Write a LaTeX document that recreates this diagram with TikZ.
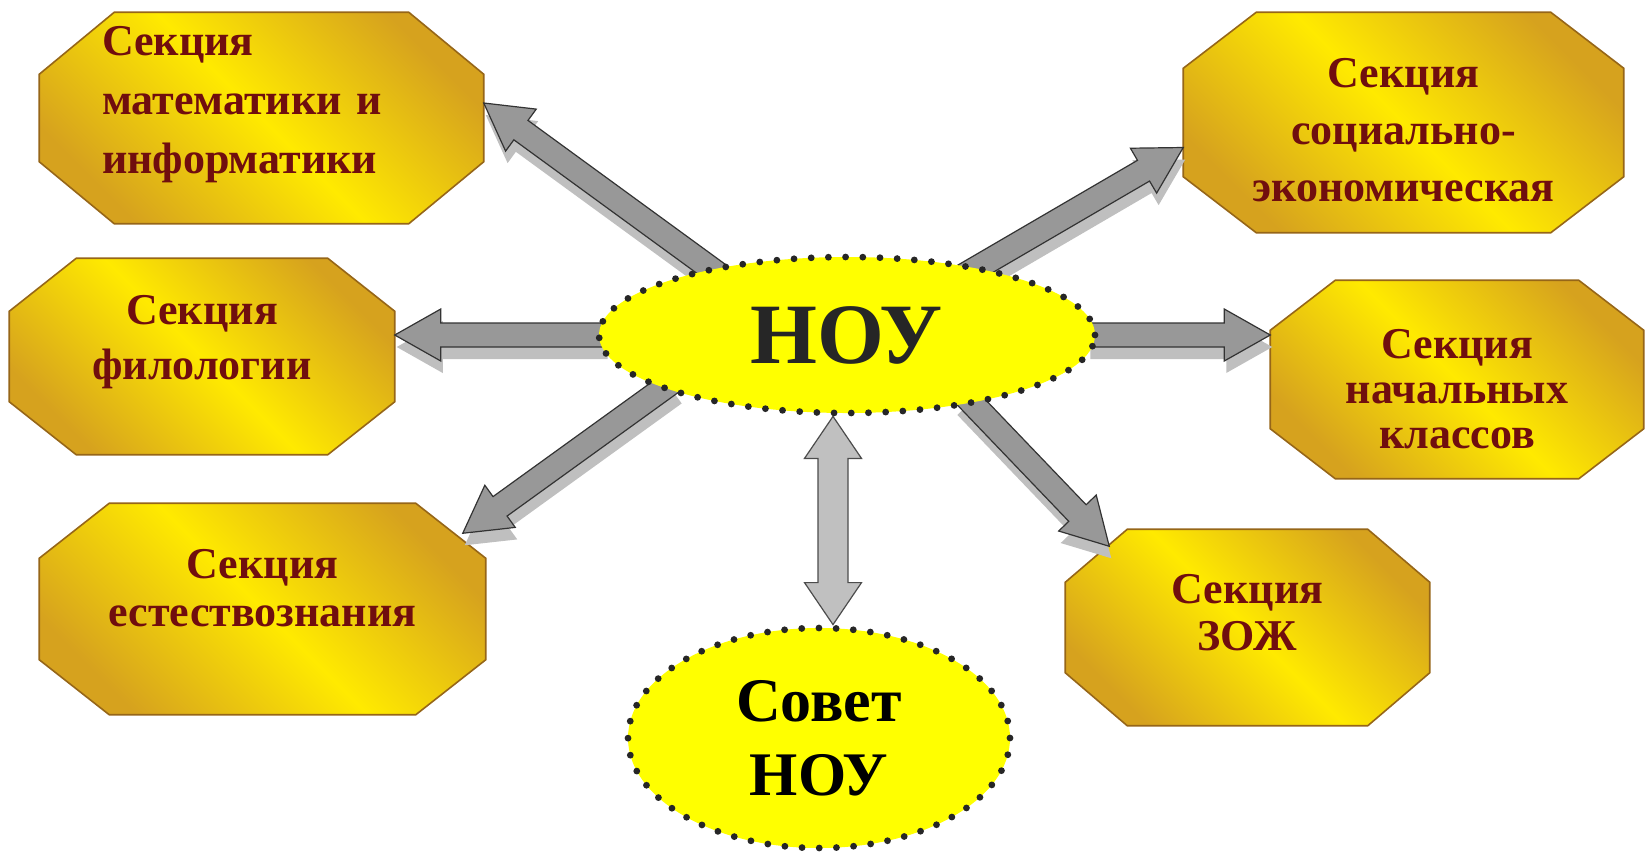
\documentclass[tikz,border=0pt]{standalone}
\usepackage{fontspec}
\setmainfont{Liberation Serif}
\usetikzlibrary{shapes.geometric,calc,backgrounds,shadows}

\definecolor{sectred}{RGB}{112,14,14}
\definecolor{goldedge}{RGB}{214,162,30}
\definecolor{goldmid}{RGB}{255,234,0}
\definecolor{goldline}{RGB}{150,102,24}
\definecolor{arrowgray}{RGB}{152,152,152}
\definecolor{linkgray}{RGB}{192,192,192}
\definecolor{hubyellow}{RGB}{255,255,0}

\tikzset{every picture/.style={line width=0.75pt}}
\tikzset{
  section/.style={rectangle, inner sep=0pt},
  secttext/.style={align=center, text=sectred, inner sep=0pt,
    font=\fontsize{22}{#1}\selectfont\bfseries},
  secttext/.default=28,
  octagon/.style={draw=goldline, line width=0.8pt, top color=goldedge,
    bottom color=goldedge, middle color=goldmid, shading angle=135},
  hub/.style={ellipse, fill=hubyellow, draw=black!85, line width=3.4pt,
    dash pattern=on 0pt off 8.6pt, line cap=round, inner sep=0pt, align=center},
  fatbody/.style={draw=black!80, fill=arrowgray, line width=0.6pt, line join=miter},
  fatarrow/.style={fatbody,
    drop shadow={shadow xshift=1pt, shadow yshift=-6pt, fill=black!25, opacity=1}},
  twinarrow/.style={fatbody, fill=linkgray, draw=black!70},
}

% octagon behind a section node: #1 node, #2 cut in x, #3 cut in y
\newcommand\octagonbox[3]{%
  \draw[octagon] ($(#1.north west)+(#2,0)$) -- ($(#1.north east)+(-#2,0)$)
    -- ($(#1.north east)+(0,#3)$) -- ($(#1.south east)+(0,-#3)$)
    -- ($(#1.south east)+(-#2,0)$) -- ($(#1.south west)+(#2,0)$)
    -- ($(#1.south west)+(0,-#3)$) -- ($(#1.north west)+(0,#3)$) -- cycle;}

% block arrow from #1 (tail) to #2 (tip)
\newcommand\fatarrow[2]{%
  \draw[fatarrow] ($(#1)!6pt!90:(#2)$) -- ($(#2)!23pt!(#1)!6pt!90:(#2)$)
    -- ($(#2)!23pt!(#1)!13pt!90:(#2)$) -- (#2)
    -- ($(#2)!23pt!(#1)!13pt!-90:(#2)$) -- ($(#2)!23pt!(#1)!6pt!-90:(#2)$)
    -- ($(#1)!6pt!-90:(#2)$) -- cycle;}

% block arrow with two heads between #1 and #2
\newcommand\twinblock[2]{%
  \draw[twinarrow] (#1) -- ($(#1)!21pt!(#2)!14.25pt!90:(#2)$)
    -- ($(#1)!21pt!(#2)!7.5pt!90:(#2)$) -- ($(#2)!21pt!(#1)!7.5pt!90:(#2)$)
    -- ($(#2)!21pt!(#1)!14.25pt!90:(#2)$) -- (#2)
    -- ($(#2)!21pt!(#1)!14.25pt!-90:(#2)$) -- ($(#2)!21pt!(#1)!7.5pt!-90:(#2)$)
    -- ($(#1)!21pt!(#2)!7.5pt!-90:(#2)$) -- ($(#1)!21pt!(#2)!14.25pt!-90:(#2)$) -- cycle;}

\begin{document}
\begin{tikzpicture}[x=0.5pt,y=0.5pt,yscale=-1,xscale=1]
\useasboundingbox (0,0) rectangle (1647,853);

% Sections
\node[section, minimum width=221.5pt, minimum height=105pt,
  label={[secttext=29.5, align=left, text width=159.5pt, yshift=6.5pt]center:{Секция\\математики и\\информатики}}] (math) at (261.5,118) {};
\node[section, minimum width=192pt, minimum height=97.5pt,
  label={[secttext=27.5, yshift=7pt]center:{Секция\\филологии}}] (phil) at (202,356.5) {};
\node[section, minimum width=222.5pt, minimum height=105pt,
  label={[secttext=24, yshift=10.5pt]center:{Секция\\естествознания}}] (est) at (262.5,609) {};
\node[section, minimum width=219.5pt, minimum height=109.5pt,
  label={[secttext=28.5, yshift=-4pt]center:{Секция\\социально-\\экономическая}}] (soc) at (1403.5,122.5) {};
\node[section, minimum width=186pt, minimum height=98.5pt,
  label={[secttext=22.5, yshift=-5pt]center:{Секция\\начальных\\классов}}] (nach) at (1457,379.5) {};
\node[section, minimum width=181.5pt, minimum height=97.5pt,
  label={[secttext=23.5, yshift=7.5pt]center:{Секция\\ЗОЖ}}] (zozh) at (1247.5,627.5) {};

% Hubs
\node[hub, minimum width=248pt, minimum height=78pt, text=black!85, font=\fontsize{43}{43}\selectfont\bfseries] (nou) at (847,335) {НОУ};
\node[hub, minimum width=191pt, minimum height=110pt, text=black, font=\fontsize{31}{37}\selectfont\bfseries] (sovet) at (819,738) {Совет\\НОУ};

% Arrow ends
\coordinate (mathtail) at ($(nou.155)!10pt!(nou.center)$);
\coordinate (mathtip) at ($(math.east)+(0,-15)$);
\coordinate (philtail) at ($(nou.west)+(10,0)$);
\coordinate (philtip) at (nou.west -| phil.east);
\coordinate (esttail) at ($(nou.195)!10pt!(nou.center)$);
\coordinate (esttip) at ($(est.north east)+(-23,30)$);
\coordinate (soctail) at ($(nou.27)!10pt!(nou.center)$);
\coordinate (soctip) at ($(soc.west)+(0,25)$);
\coordinate (nachtail) at ($(nou.east)+(-10,0)$);
\coordinate (nachtip) at (nou.east -| nach.west);
\coordinate (zozhtail) at ($(nou.-27)!10pt!(nou.center)$);
\coordinate (zozhtip) at ($(zozh.north west)+(44,17)$);
\coordinate (linktop) at ($(nou.south)+(-14,0)$);
\coordinate (linkbot) at ($(sovet.north)+(14,0)$);

\begin{scope}[on background layer]
% Boxes
\octagonbox{math}{75}{62}
\octagonbox{phil}{67}{53}
\octagonbox{est}{70}{55}
\octagonbox{soc}{73}{56}
\octagonbox{nach}{65}{50}
\octagonbox{zozh}{62}{53}
% Arrows
\fatarrow{mathtail}{mathtip}
\fatarrow{philtail}{philtip}
\fatarrow{esttail}{esttip}
\fatarrow{soctail}{soctip}
\fatarrow{nachtail}{nachtip}
\fatarrow{zozhtail}{zozhtip}
\twinblock{linktop}{linkbot}
\end{scope}

\end{tikzpicture}
\end{document}
